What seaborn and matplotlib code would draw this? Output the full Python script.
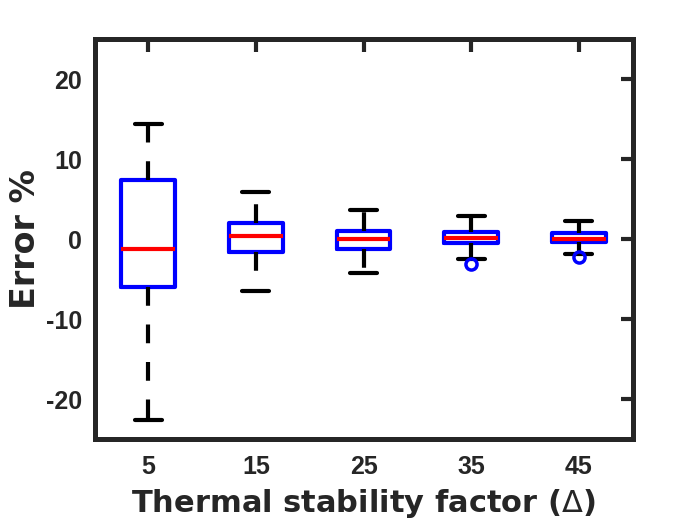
import numpy as np
import pandas as pd
import matplotlib
matplotlib.use("Agg")
import matplotlib.pyplot as plt
import seaborn as sns

# ---- data (five-number summaries per group) ----
categories = ["5", "15", "25", "35", "45"]
whisker_low = [-22.6, -6.5, -4.2, -2.4, -1.8]
q1 = [-5.9, -1.6, -1.25, -0.5, -0.33]
median = [-1.25, 0.4, 0.08, 0.12, 0.08]
q3 = [7.4, 2.0, 1.05, 0.95, 0.75]
whisker_high = [14.4, 5.9, 3.7, 2.9, 2.25]
outliers = [None, None, None, -3.1, -2.2]

# build a small sample per group that reproduces these summaries
rows = []
for c, lo, a, m, b, hi, out in zip(categories, whisker_low, q1, median, q3,
                                   whisker_high, outliers):
    first = out if out is not None else lo
    vals = [first, lo, a, (a + m) / 2, m, (m + b) / 2, b, hi, hi]
    rows += [(c, v) for v in vals]
df = pd.DataFrame(rows, columns=["factor", "error"])

sns.set_style("white")
plt.rcParams["font.family"] = ["DejaVu Sans"]
plt.rcParams["axes.unicode_minus"] = False
dark = "#262626"

fig = plt.figure(figsize=(7, 5.25), dpi=100)
ax = fig.add_axes([0.135, 0.163, 0.7686, 0.7618])

sns.boxplot(
    data=df, x="factor", y="error", order=categories, ax=ax,
    fill=False, color="blue", width=0.5, whis=1.5, linewidth=3,
    boxprops=dict(color="blue", linewidth=3),
    whiskerprops=dict(color="black", linewidth=3, linestyle=(0, (4.5, 4.5))),
    capprops=dict(color="black", linewidth=3),
    medianprops=dict(color="red", linewidth=3),
    flierprops=dict(marker="o", markerfacecolor="none", markeredgecolor="blue",
                    markersize=8, markeredgewidth=2.5),
)

ax.set_ylim(-25, 25)
ax.set_xlim(-0.5, 4.5)
ax.set_yticks([-20, -10, 0, 10, 20])
for s in ax.spines.values():
    s.set_visible(True)
    s.set_linewidth(3.6)
    s.set_color(dark)
ax.tick_params(axis="both", direction="in", length=9, width=3, color=dark,
               top=True, right=True, labelcolor=dark)
ax.tick_params(axis="y", pad=9)
ax.tick_params(axis="x", pad=11)
for lab in ax.get_xticklabels() + ax.get_yticklabels():
    lab.set_fontfamily("Liberation Sans")
    lab.set_fontweight("bold")
    lab.set_fontsize(18)

ax.set_xlabel(r"Thermal stability factor ($\Delta$)", fontsize=22,
              fontweight="bold", color=dark, labelpad=6)
ax.set_ylabel("Error %", fontsize=24, fontweight="bold", color=dark,
              labelpad=3)

fig.savefig("out.png", dpi=100)
